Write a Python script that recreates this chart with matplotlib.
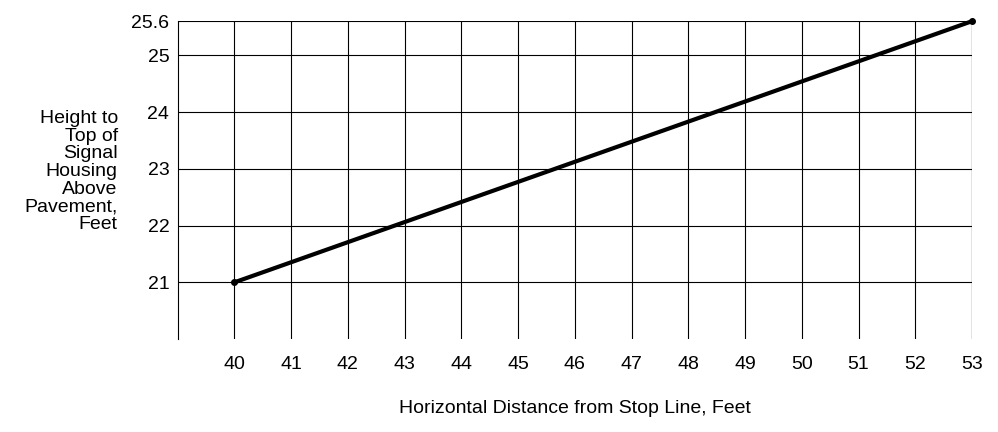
import matplotlib
matplotlib.use("Agg")
import matplotlib.pyplot as plt

plt.rcParams['font.family'] = ['Liberation Sans', 'DejaVu Sans']

# Data
distance = [40, 53]
height = [21, 25.6]
x_ticks = list(range(40, 54))
y_ticks = [21, 22, 23, 24, 25, 25.6]

fig = plt.figure(figsize=(9.98, 4.32), dpi=100)
ax = fig.add_axes([0.178, 0.215, 0.796, 0.736])

ax.plot(distance, height, color="black", lw=3, marker="o", ms=4, zorder=3, clip_on=False)

ax.set_xlim(39, 53)
ax.set_ylim(20, 25.6)
ax.set_xticks(x_ticks)
ax.set_yticks(y_ticks)
ax.set_yticklabels(["21", "22", "23", "24", "25", "25.6"])
ax.grid(True, color="black", lw=0.8)
ax.tick_params(length=0, labelsize=14)
ax.tick_params(axis="x", pad=12)
ax.tick_params(axis="y", pad=6)
for s in ax.spines.values():
    s.set_linewidth(0.8)
ax.spines["top"].set_visible(False)
ax.spines["bottom"].set_visible(False)
ax.spines["right"].set_visible(False)
ax.plot([53, 53], [20, 25.6], color="black", lw=0.8)

fig.text(0.118, 0.745, "Height to\nTop of\nSignal\nHousing\nAbove\nPavement,\nFeet",
         ha="right", va="top", fontsize=14, linespacing=1.05)
fig.text(0.576, 0.055, "Horizontal Distance from Stop Line, Feet",
         ha="center", va="center", fontsize=14)

fig.savefig("out.png", dpi=100)
